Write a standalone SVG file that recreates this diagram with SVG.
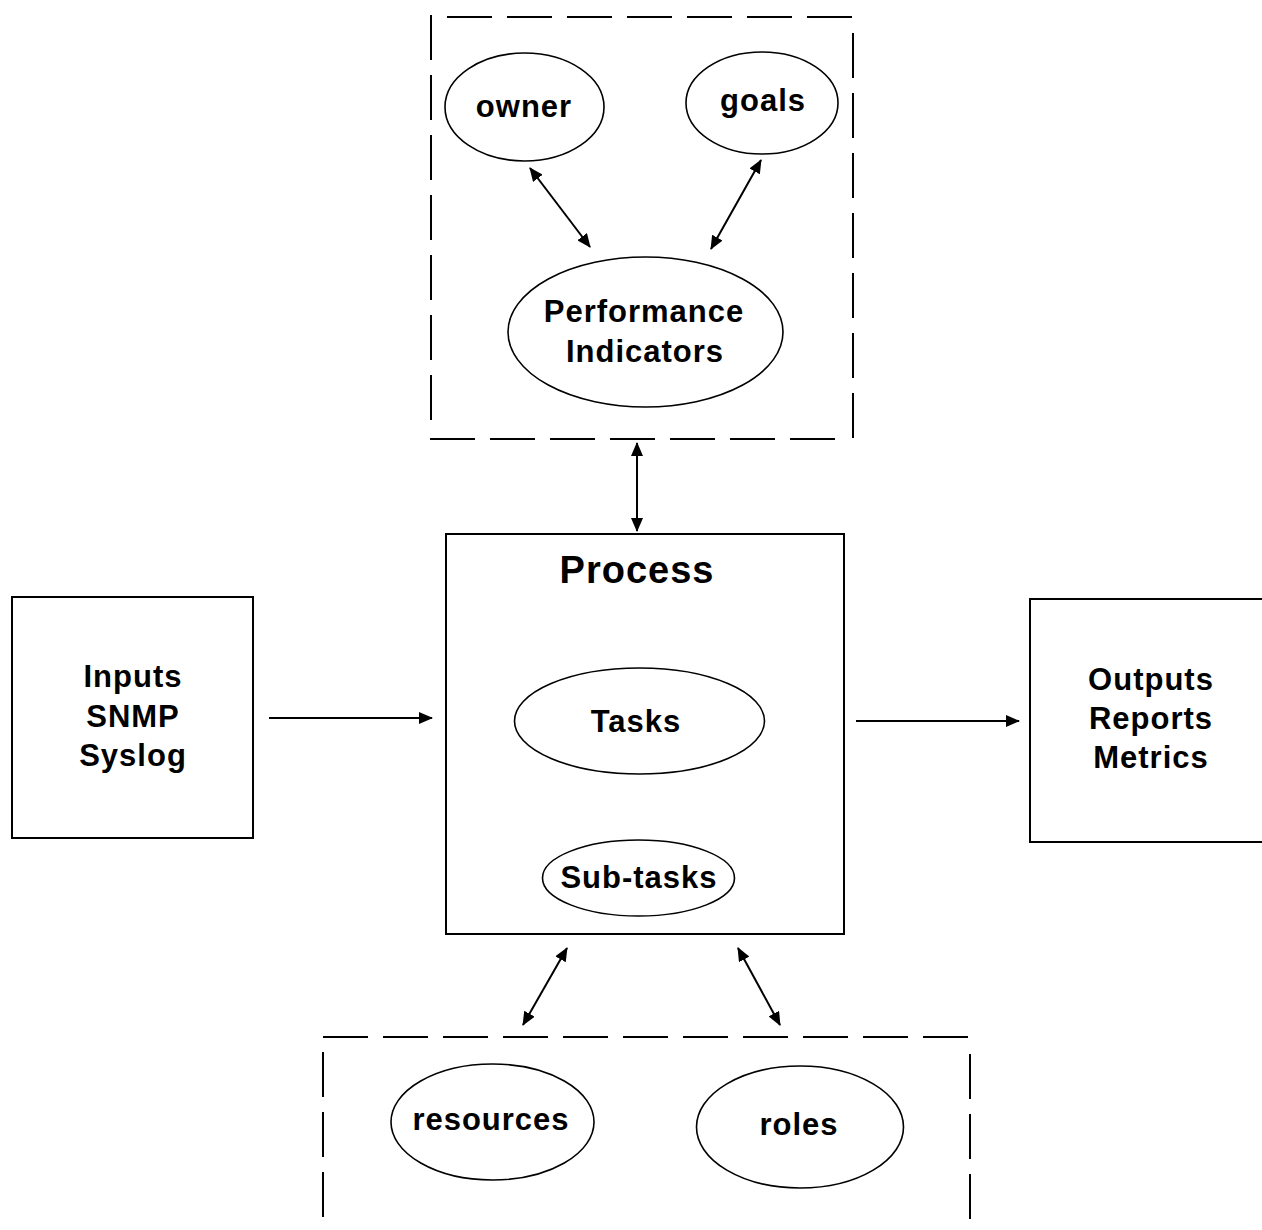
<svg xmlns="http://www.w3.org/2000/svg" width="1262" height="1230" viewBox="0 0 1262 1230">
  <style>
    .box { fill: #fff; stroke: #000; stroke-width: 2; }
    .dash { fill: none; stroke: #000; stroke-width: 2; stroke-dasharray: 45 15; }
    .oval { fill: #fff; stroke: #000; stroke-width: 1.6; }
    .lbl { font-family: "Liberation Sans", Arial, sans-serif; font-weight: bold; font-size: 31px; letter-spacing: 1px; fill: #000; text-anchor: middle; }
    .big { font-size: 38px; }
    .conn { fill: none; stroke: #000; stroke-width: 2; }
  </style>
  <defs>
    <marker id="head" viewBox="0 0 14 12" refX="13" refY="6" markerWidth="14" markerHeight="12" markerUnits="userSpaceOnUse" orient="auto-start-reverse">
      <path d="M0,0 L14,6 L0,12 z" fill="#000"/>
    </marker>
  </defs>
  <rect width="1262" height="1230" fill="#fff"/>

  <!-- upper dashed group -->
  <g id="kpi-group">
    <line class="dash" x1="447" y1="17" x2="853" y2="17"/>
    <line class="dash" x1="853" y1="33" x2="853" y2="440"/>
    <line class="dash" x1="431" y1="15" x2="431" y2="425"/>
    <line class="dash" x1="430" y1="439" x2="840" y2="439"/>
  </g>
  <g id="owner">
    <ellipse class="oval" cx="524.5" cy="107" rx="79.5" ry="54"/>
    <text class="lbl" x="524" y="117">owner</text>
  </g>
  <g id="goals">
    <ellipse class="oval" cx="762" cy="103" rx="76" ry="51"/>
    <text class="lbl" x="763" y="111">goals</text>
  </g>
  <g id="performance-indicators">
    <ellipse class="oval" cx="645.5" cy="332" rx="137.5" ry="75"/>
    <text class="lbl" x="644" y="322">Performance</text>
    <text class="lbl" x="645" y="362">Indicators</text>
  </g>

  <!-- process -->
  <g id="process">
    <rect class="box" x="446" y="534" width="398" height="400"/>
    <text class="lbl big" x="637" y="583">Process</text>
  </g>
  <g id="tasks">
    <ellipse class="oval" cx="639.5" cy="721" rx="125" ry="53"/>
    <text class="lbl" x="636" y="732">Tasks</text>
  </g>
  <g id="sub-tasks">
    <ellipse class="oval" cx="638.5" cy="878" rx="96" ry="38"/>
    <text class="lbl" x="639" y="888">Sub-tasks</text>
  </g>

  <!-- inputs / outputs -->
  <g id="inputs">
    <rect class="box" x="12" y="597" width="241" height="241"/>
    <text class="lbl" x="133" y="687">Inputs</text>
    <text class="lbl" x="133" y="727">SNMP</text>
    <text class="lbl" x="133" y="766">Syslog</text>
  </g>
  <g id="outputs">
    <rect class="box" x="1030" y="599" width="240" height="243"/>
    <text class="lbl" x="1151" y="690">Outputs</text>
    <text class="lbl" x="1151" y="729">Reports</text>
    <text class="lbl" x="1151" y="768">Metrics</text>
  </g>

  <!-- lower dashed group -->
  <g id="resource-group">
    <line class="dash" x1="323" y1="1037" x2="972" y2="1037"/>
    <line class="dash" x1="323" y1="1052" x2="323" y2="1230"/>
    <line class="dash" x1="970" y1="1054" x2="970" y2="1230"/>
  </g>
  <g id="resources">
    <ellipse class="oval" cx="492.5" cy="1122" rx="101.5" ry="58"/>
    <text class="lbl" x="491" y="1130">resources</text>
  </g>
  <g id="roles">
    <ellipse class="oval" cx="800" cy="1127" rx="103.5" ry="61"/>
    <text class="lbl" x="799" y="1135">roles</text>
  </g>

  <!-- connectors -->
  <g id="connectors">
    <line class="conn" x1="530" y1="168" x2="590" y2="247" marker-start="url(#head)" marker-end="url(#head)"/>
    <line class="conn" x1="761" y1="160" x2="711" y2="249" marker-start="url(#head)" marker-end="url(#head)"/>
    <line class="conn" x1="637" y1="443" x2="637" y2="531" marker-start="url(#head)" marker-end="url(#head)"/>
    <line class="conn" x1="269" y1="718" x2="432" y2="718" marker-end="url(#head)"/>
    <line class="conn" x1="856" y1="721" x2="1019" y2="721" marker-end="url(#head)"/>
    <line class="conn" x1="567" y1="948" x2="523" y2="1025" marker-start="url(#head)" marker-end="url(#head)"/>
    <line class="conn" x1="738" y1="948" x2="780" y2="1025" marker-start="url(#head)" marker-end="url(#head)"/>
  </g>
</svg>
